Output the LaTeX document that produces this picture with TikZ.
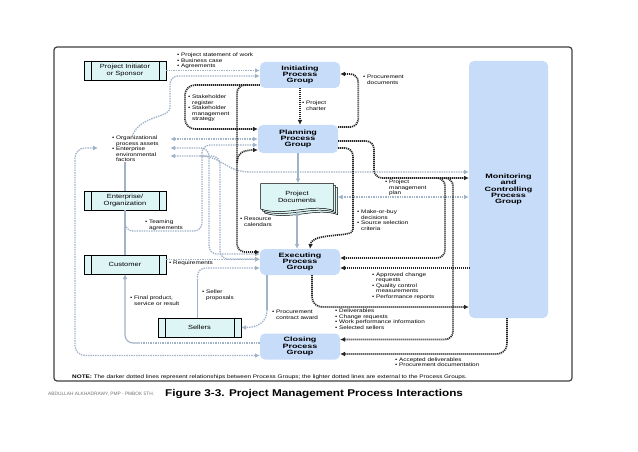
\documentclass[tikz,border=0pt]{standalone}
\usepackage{fontspec}
\setmainfont{Liberation Sans}
\newfontfamily\lblfont[FakeStretch=1.25]{Liberation Sans}
\newfontfamily\grpfont[FakeStretch=1.45]{Liberation Sans}
\newfontfamily\capfont[FakeStretch=1.2]{Liberation Sans}
\usetikzlibrary{positioning,arrows.meta,calc}

\definecolor{grpfill}{RGB}{198,220,248}
\definecolor{boxfill}{RGB}{222,245,246}
\definecolor{extc}{RGB}{160,178,200}
\definecolor{procc}{RGB}{35,35,35}

\pgfdeclarelayer{back}
\pgfsetlayers{back,main}

\newcommand{\ind}{\phantom{\textbullet\ }}

\tikzset{
  grp/.style={fill=grpfill, rounded corners=5pt, align=center, inner sep=0pt,
    minimum width=80pt, minimum height=26pt,
    font=\grpfont\bfseries\fontsize{6.2}{6.2}\selectfont},
  extbox/.style={draw, line width=0.5pt, fill=boxfill, align=center, inner sep=0pt,
    minimum width=82pt, minimum height=19pt, font=\lblfont\fontsize{6}{6.4}\selectfont},
  lbl/.style={anchor=north west, inner sep=0pt, align=left,
    font=\lblfont\fontsize{5.1}{5.5}\selectfont},
  proc/.style={draw=procc, line width=1.7pt, dash pattern=on 1.1pt off 0.9pt},
  ext/.style={draw=extc, line width=1.3pt, dash pattern=on 1.4pt off 1pt},
  extsolid/.style={draw=extc, line width=1.1pt},
}

\begin{document}
\begin{tikzpicture}[x=1pt, y=-1pt, >={Latex[length=4.8pt,width=4.8pt]}]

\useasboundingbox (0,0) rectangle (638,452);

\begin{pgfonlayer}{back}
\fill[white] (0,0) rectangle (638,452);
\draw[black!75, line width=1.2pt, rounded corners=3pt] (54,47) rectangle (572,381);
\end{pgfonlayer}

% process groups
\node[grp] (init) at (300,75) {Initiating\\Process\\Group};
\node[grp, minimum height=28pt] (plan) at (298,139) {Planning\\Process\\Group};
\node[grp] (exec) at (300,262) {Executing\\Process\\Group};
\node[grp] (close) at (300,346.5) {Closing\\Process\\Group};
\node[grp, minimum width=79pt, minimum height=257pt] (mc) at (508.5,189.5)
  {Monitoring\\and\\Controlling\\Process\\Group};

% outside parties
\node[extbox] (sponsor) at (125,70.5) {Project Initiator\\or Sponsor};
\node[extbox] (enterprise) at (125,200.5) {Enterprise/\\Organization};
\node[extbox] (customer) at (125,264.5) {Customer};
\node[extbox, minimum width=83pt] (sellers) at (199.5,327.5) {Sellers};
\foreach \b in {sponsor,enterprise,customer,sellers}
  \draw[line width=0.5pt] ([xshift=7pt]\b.north west) -- ([xshift=7pt]\b.south west)
    ([xshift=-7pt]\b.north east) -- ([xshift=-7pt]\b.south east);

% project documents
\node[align=center, inner sep=0pt, minimum width=73pt, minimum height=27pt,
  font=\lblfont\fontsize{6}{6.4}\selectfont] (docs) at (297,197) {Project\\Documents};
\begin{pgfonlayer}{back}
\foreach \s in {4,2,0}
  \draw[fill=boxfill, line width=0.5pt, shift={(\s,\s)}]
    (260.5,183.5) -- (333.5,183.5) -- (333.5,210.5)
    .. controls (312,203) and (285,217) .. (260.5,209) -- cycle;
\end{pgfonlayer}

% labels
\node[lbl] (sow) at (177,53) {\textbullet\ Project statement of work\\\textbullet\ Business case\\\textbullet\ Agreements};
\node[lbl] (stake) at (188,95) {\textbullet\ Stakeholder\\\ind register\\\textbullet\ Stakeholder\\\ind management\\\ind strategy};
\node[lbl] (procdoc) at (363,75) {\textbullet\ Procurement\\\ind documents};
\node[lbl] (charter) at (302,101) {\textbullet\ Project\\\ind charter};
\node[lbl, text width=56pt] (opa) at (112,136) {\textbullet\ Organizational\\\ind process assets\\\textbullet\ Enterprise\\\ind environmental\\\ind factors};
\node[lbl] (teaming) at (145,220) {\textbullet\ Teaming\\\ind agreements};
\node[lbl] (req) at (169,261) {\textbullet\ Requirements};
\node[lbl] (rescal) at (240,217) {\textbullet\ Resource\\\ind calendars};
\node[lbl] (mob) at (357,210) {\textbullet\ Make-or-buy\\\ind decisions\\\textbullet\ Source selection\\\ind criteria};
\node[lbl] (pmp) at (385,180) {\textbullet\ Project\\\ind management\\\ind plan};
\node[lbl] (acr) at (372,272.5) {\textbullet\ Approved change\\\ind requests\\\textbullet\ Quality control\\\ind measurements\\\textbullet\ Performance reports};
\node[lbl] (sprop) at (202,290) {\textbullet\ Seller\\\ind proposals};
\node[lbl] (fprod) at (130,296) {\textbullet\ Final product,\\\ind service or result};
\node[lbl] (pca) at (272,310) {\textbullet\ Procurement\\\ind contract award};
\node[lbl] (deliv) at (335,309) {\textbullet\ Deliverables\\\textbullet\ Change requests\\\textbullet\ Work performance information\\\textbullet\ Selected sellers};
\node[lbl] (accd) at (395,357.5) {\textbullet\ Accepted deliverables\\\textbullet\ Procurement documentation};
\node[lbl, anchor=west] (note) at (72,377) {\textbf{NOTE:} The darker dotted lines represent relationships between Process Groups; the lighter dotted lines are external to the Process Groups.};
\node[anchor=west, inner sep=0pt, font=\capfont\bfseries\fontsize{9.8}{9.8}\selectfont] (caption) at (165,394) {Figure 3-3. Project Management Process Interactions};
\node[anchor=west, inner sep=0pt, text=black!55, font=\fontsize{4.8}{4.8}\selectfont] (credit) at (48,394) {ABDULLAH ALKHADRAWY, PMP - PMBOK 5TH.};

% points beside the assets label
\path (opa.north east) ++(2,3) coordinate (o1) ++(0,9) coordinate (o2) ++(0,8) coordinate (o3);
\path (opa.north west) ++(-14,12) coordinate (o4);
\path ([yshift=5pt]customer.east) coordinate (rq);
\path ([yshift=-6pt]exec.east) coordinate (acrend);

% external (light) connectors
\draw[ext,->] (sponsor.east) -- (sponsor.east -| init.west);
\draw[ext,->,rounded corners=8pt] ([xshift=-8pt]opa.north) .. controls (140,115) and (170,118) .. (170,100) |- ([yshift=-1pt]init.west);
\draw[ext,<->] (o1) -- (o1 -| plan.west);
\draw[ext,<->,rounded corners=8pt] (o2) -| (209,200) |- ([yshift=8pt]exec.west);
\draw[ext,<->,rounded corners=8pt] (o3) -| (220,200) |- ([yshift=3pt]exec.west);
\draw[ext,->] (200,156) .. controls (222,156) and (226,172) .. (250,172) -- (mc.west |- 0,172);
\draw[ext,->,rounded corners=8pt] (enterprise.south |- 0,220) |- (202,231) |- ([yshift=-6pt]plan.west);
\draw[ext,->] (rq) -- (rq -| exec.west);
\draw[ext,<->,rounded corners=10pt] (o4) -| (75,300) |- ([yshift=-9pt]close.west);
\draw[ext] ([yshift=3.5pt]close.west) -- (140,343);
\draw[extsolid,->,rounded corners=8pt] (140,343) -| (customer.south);
\draw[extsolid] (enterprise.north) -- (enterprise.north |- opa.south);
\draw[extsolid] (enterprise.south) -- (customer.north);
\draw[extsolid] ([xshift=-2pt]sellers.north) -- (197.5,280);
\draw[ext,->,rounded corners=8pt] (197.5,280) |- ([yshift=-6pt]exec.west);
\draw[extsolid] ([xshift=-33pt]exec.south) -- (267,310);
\draw[ext,->] (267,310) .. controls (267,322) and (258,327.5) .. (sellers.east);
\draw[extsolid,->] (plan.south) -- (plan.south |- docs.north);
\draw[extsolid,<->] (docs.south) -- (docs.south |- exec.north);
\draw[ext,<->] ([xshift=4pt]docs.east) -- (docs.east -| mc.west);

% process group (dark) connectors
\draw[proc,->] (init.south) -- (init.south |- plan.north);
\draw[proc,->,rounded corners=8pt] ([yshift=12pt]plan.east) -- ++(20,0) |- ([yshift=1pt]init.east);
\draw[proc,->,rounded corners=10pt] ([yshift=-10pt]init.west) -| (185,110) |- ([yshift=10pt]plan.west);
\draw[proc,->,rounded corners=8pt] (248,85) -| (237,200) |- ([yshift=10pt]exec.west);
\draw[proc,->] (237,163) .. controls (237,152) and (245,150) .. ([yshift=-11pt]plan.west);
\draw[proc,->,rounded corners=8pt] ([yshift=-9pt]plan.east) -| (353,222) .. controls (353,238) and (312,232) .. ([xshift=10pt]exec.north);
\draw[proc,->,rounded corners=8pt] ([yshift=-2pt]plan.east) -| (374,160) |- ([yshift=11.5pt]mc.west);
\draw[proc,->,rounded corners=8pt] (432,178) -| (445,220) |- ([yshift=4pt]exec.east);
\draw[proc,->,rounded corners=8pt] (440,178) -| (453,300) |- ([yshift=7pt]close.east);
\draw[proc,<-] (acrend) -- (acrend -| mc.west);
\draw[proc,->,rounded corners=10pt] ([xshift=12pt]exec.south) |- (mc.west |- 0,307);
\draw[proc,->,rounded corners=10pt] ([xshift=-1.5pt]mc.south) |- ([yshift=-7.5pt]close.east);

\end{tikzpicture}
\end{document}
